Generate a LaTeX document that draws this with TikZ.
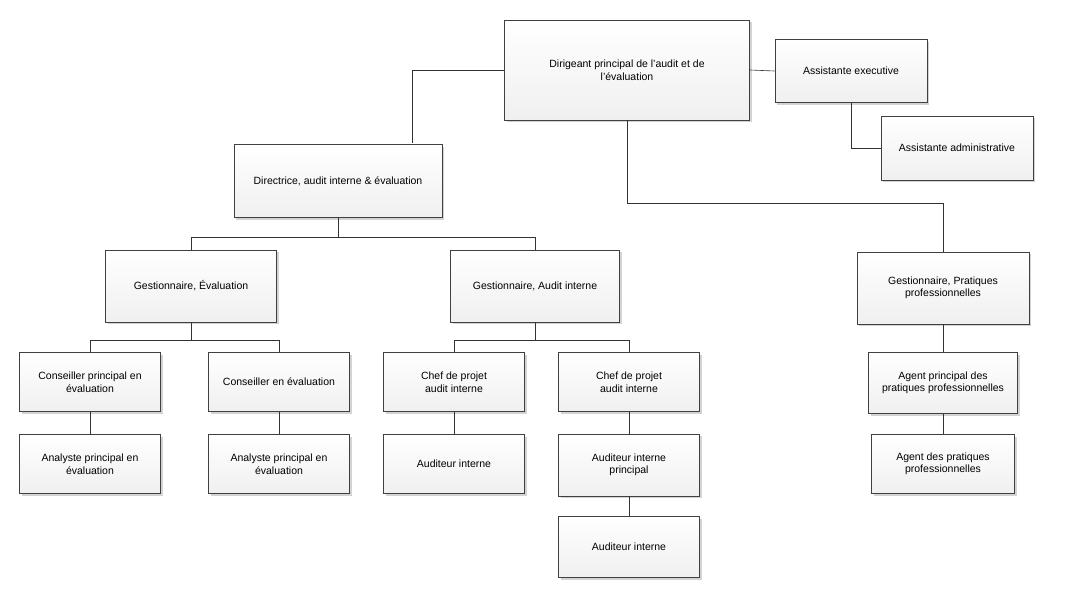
\documentclass[tikz,border=0pt]{standalone}
\usepackage{fontspec}
\setmainfont{Liberation Sans}
\usetikzlibrary{shadows}

\tikzset{
  box/.style={draw=black!75, line width=0.6pt, top color=white, bottom color=black!6, align=center,
    inner sep=2pt, drop shadow={shadow xshift=2pt, shadow yshift=-2pt, opacity=0.35},
    font=\fontsize{10.5}{12.5}\selectfont},
  bigbox/.style={box, append after command={
    (\tikzlastnode.north west) ++(3pt,-3pt) coordinate (tmpa)
    (\tikzlastnode.south east) ++(-3pt,3pt) coordinate (tmpb)
    [draw=black!75, line width=0.6pt] (tmpa) rectangle (tmpb)}},
  link/.style={draw=black!80, line width=0.6pt}
}

\begin{document}
\begin{tikzpicture}[x=1pt, y=-1pt]
  \useasboundingbox (0,0) rectangle (1068,589);

  % top levels
  \node[bigbox, minimum width=245pt, minimum height=100pt] (chief) at (627,70) {Dirigeant principal de l’audit et de\\l’évaluation};
  \node[box, minimum width=152pt, minimum height=63pt] (exec) at (851,71) {Assistante executive};
  \node[box, minimum width=152pt, minimum height=64pt] (admin) at (957,148) {Assistante administrative};
  \node[bigbox, minimum width=208pt, minimum height=73pt] (dir) at (338,181) {Directrice, audit interne \& évaluation};

  % managers
  \node[box, minimum width=171pt, minimum height=72pt] (geval) at (191,286) {Gestionnaire, Évaluation};
  \node[box, minimum width=169pt, minimum height=72pt] (gaudit) at (535,286) {Gestionnaire, Audit interne};
  \node[box, minimum width=172pt, minimum height=72pt] (gprat) at (943,288) {Gestionnaire, Pratiques\\professionnelles};

  % evaluation
  \node[box, minimum width=141pt, minimum height=59pt] (cons1) at (90,382) {Conseiller principal en\\évaluation};
  \node[box, minimum width=141pt, minimum height=59pt] (cons2) at (279,382) {Conseiller en évaluation};
  \node[box, minimum width=141pt, minimum height=59pt] (anal1) at (90,464) {Analyste principal en\\évaluation};
  \node[box, minimum width=141pt, minimum height=59pt] (anal2) at (279,464) {Analyste principal en\\évaluation};

  % audit
  \node[box, minimum width=141pt, minimum height=59pt] (chef1) at (454,382) {Chef de projet\\audit interne};
  \node[box, minimum width=141pt, minimum height=59pt] (chef2) at (629,382) {Chef de projet\\audit interne};
  \node[box, minimum width=141pt, minimum height=59pt] (aud1) at (454,464) {Auditeur interne};
  \node[box, minimum width=141pt, minimum height=62pt] (audp) at (629,465) {Auditeur interne\\principal};
  \node[box, minimum width=141pt, minimum height=61pt] (aud2) at (629,547) {Auditeur interne};

  % pratiques
  \node[box, minimum width=149pt, minimum height=61pt] (agp) at (943,383) {Agent principal des\\pratiques professionnelles};
  \node[box, minimum width=143pt, minimum height=59pt] (agent) at (943,464) {Agent des pratiques\\professionnelles};

  \coordinate (dirtop) at (412,143);
  \coordinate (bus0) at (943,203);
  \coordinate (bus1) at (338,237);
  \coordinate (bus2) at (191,340);
  \coordinate (bus3) at (535,340);

  \draw[link] (chief.west) -| (dirtop);
  \draw[link] (chief.east) -- (exec.west);
  \draw[link] (exec.south) |- (admin.west);
  \draw[link] (chief.south) |- (bus0) -- (gprat.north);
  \draw[link] (dir.south) -- (bus1);
  \draw[link] (bus1) -| (geval.north);
  \draw[link] (bus1) -| (gaudit.north);
  \draw[link] (geval.south) -- (bus2);
  \draw[link] (bus2) -| (cons1.north);
  \draw[link] (bus2) -| (cons2.north);
  \draw[link] (gaudit.south) -- (bus3);
  \draw[link] (bus3) -| (chef1.north);
  \draw[link] (bus3) -| (chef2.north);
  \draw[link] (cons1) -- (anal1);
  \draw[link] (cons2) -- (anal2);
  \draw[link] (chef1) -- (aud1);
  \draw[link] (chef2) -- (audp);
  \draw[link] (audp) -- (aud2);
  \draw[link] (gprat) -- (agp);
  \draw[link] (agp) -- (agent);
\end{tikzpicture}
\end{document}
